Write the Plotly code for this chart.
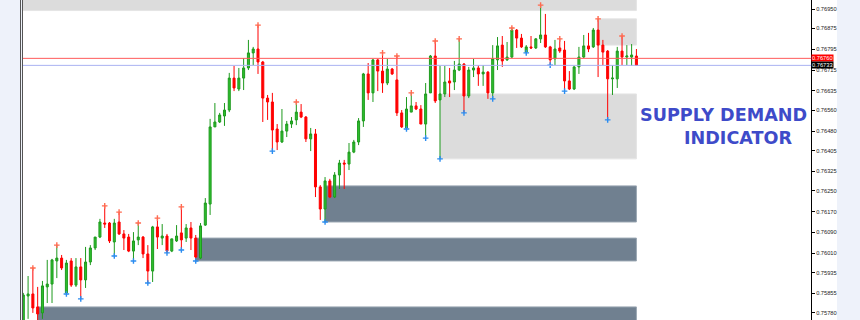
import plotly.graph_objects as go

# ---------------- data ----------------
opens = [0.75733, 0.75845, 0.75853, 0.75803, 0.75780, 0.75880, 0.75891, 0.75980, 0.75991, 0.75857,
         0.75980, 0.75887, 0.75957, 0.75907, 0.75976, 0.76030, 0.76072, 0.76126, 0.76126, 0.76053,
         0.76130, 0.76084, 0.76072, 0.76018, 0.76061, 0.76072, 0.76007, 0.75941, 0.76111, 0.76068,
         0.76076, 0.76018, 0.76057, 0.76088, 0.76068, 0.76107, 0.76068, 0.75991, 0.76118, 0.76199,
         0.76496, 0.76515, 0.76538, 0.76561, 0.76684, 0.76642, 0.76684, 0.76723, 0.76781, 0.76796,
         0.76746, 0.76607, 0.76592, 0.76488, 0.76438, 0.76480, 0.76507, 0.76523, 0.76553, 0.76534,
         0.76450, 0.76469, 0.76265, 0.76180, 0.76288, 0.76226, 0.76311, 0.76357, 0.76353, 0.76399,
         0.76438, 0.76519, 0.76700, 0.76627, 0.76754, 0.76711, 0.76665, 0.76719, 0.76677, 0.76550,
         0.76492, 0.76553, 0.76577, 0.76565, 0.76507, 0.76627, 0.76769, 0.76600, 0.76623, 0.76673,
         0.76669, 0.76715, 0.76738, 0.76615, 0.76715, 0.76723, 0.76700, 0.76707, 0.76627, 0.76754,
         0.76811, 0.76754, 0.76765, 0.76869, 0.76838, 0.76784, 0.76804, 0.76800, 0.76835, 0.76850,
         0.76804, 0.76758, 0.76800, 0.76792, 0.76673, 0.76642, 0.76727, 0.76765, 0.76808, 0.76804,
         0.76869, 0.76811, 0.76788, 0.76681, 0.76681, 0.76788, 0.76765, 0.76765, 0.76769]
highs = [0.75857, 0.75922, 0.75953, 0.75880, 0.75903, 0.75984, 0.75988, 0.76041, 0.76003, 0.75984,
         0.75991, 0.75991, 0.75991, 0.76034, 0.76041, 0.76072, 0.76142, 0.76192, 0.76130, 0.76142,
         0.76168, 0.76099, 0.76084, 0.76091, 0.76126, 0.76076, 0.76041, 0.76115, 0.76145, 0.76122,
         0.76084, 0.76065, 0.76118, 0.76188, 0.76122, 0.76130, 0.76080, 0.76126, 0.76222, 0.76527,
         0.76588, 0.76550, 0.76588, 0.76704, 0.76731, 0.76723, 0.76761, 0.76831, 0.76804, 0.76888,
         0.76750, 0.76619, 0.76627, 0.76507, 0.76565, 0.76519, 0.76534, 0.76592, 0.76584, 0.76538,
         0.76492, 0.76488, 0.76272, 0.76303, 0.76296, 0.76322, 0.76369, 0.76369, 0.76434, 0.76446,
         0.76530, 0.76704, 0.76742, 0.76758, 0.76758, 0.76781, 0.76758, 0.76723, 0.76769, 0.76561,
         0.76611, 0.76627, 0.76592, 0.76580, 0.76665, 0.76773, 0.76827, 0.76731, 0.76731, 0.76723,
         0.76750, 0.76835, 0.76742, 0.76727, 0.76758, 0.76734, 0.76734, 0.76711, 0.76811, 0.76842,
         0.76846, 0.76823, 0.76877, 0.76873, 0.76854, 0.76811, 0.76846, 0.76838, 0.76965, 0.76931,
         0.76808, 0.76831, 0.76835, 0.76827, 0.76711, 0.76731, 0.76804, 0.76850, 0.76858, 0.76877,
         0.76912, 0.76831, 0.76792, 0.76734, 0.76804, 0.76846, 0.76811, 0.76815, 0.76796]
lows = [0.75714, 0.75757, 0.75780, 0.75745, 0.75757, 0.75818, 0.75818, 0.75914, 0.75945, 0.75853,
        0.75880, 0.75880, 0.75834, 0.75876, 0.75964, 0.76022, 0.76068, 0.76107, 0.76049, 0.75999,
        0.76080, 0.76022, 0.76014, 0.75980, 0.76041, 0.75991, 0.75895, 0.75899, 0.76026, 0.76041,
        0.76011, 0.76014, 0.76053, 0.76022, 0.76053, 0.76022, 0.75980, 0.75987, 0.76115, 0.76157,
        0.76496, 0.76511, 0.76500, 0.76553, 0.76634, 0.76634, 0.76638, 0.76715, 0.76734, 0.76700,
        0.76515, 0.76523, 0.76403, 0.76407, 0.76434, 0.76457, 0.76492, 0.76503, 0.76530, 0.76438,
        0.76403, 0.76226, 0.76138, 0.76130, 0.76222, 0.76222, 0.76257, 0.76257, 0.76330, 0.76395,
        0.76426, 0.76496, 0.76600, 0.76592, 0.76634, 0.76627, 0.76657, 0.76696, 0.76538, 0.76492,
        0.76488, 0.76553, 0.76561, 0.76507, 0.76453, 0.76627, 0.76588, 0.76373, 0.76611, 0.76611,
        0.76638, 0.76711, 0.76550, 0.76607, 0.76688, 0.76654, 0.76654, 0.76604, 0.76604, 0.76715,
        0.76727, 0.76750, 0.76761, 0.76800, 0.76800, 0.76781, 0.76796, 0.76796, 0.76819, 0.76800,
        0.76734, 0.76734, 0.76781, 0.76634, 0.76638, 0.76638, 0.76700, 0.76761, 0.76784, 0.76800,
        0.76688, 0.76734, 0.76523, 0.76619, 0.76646, 0.76734, 0.76734, 0.76731, 0.76731]
closes = [0.75849, 0.75853, 0.75799, 0.75776, 0.75884, 0.75891, 0.75984, 0.75991, 0.75953, 0.75972,
          0.75887, 0.75957, 0.75907, 0.75976, 0.76030, 0.76072, 0.76130, 0.76122, 0.76057, 0.76126,
          0.76084, 0.76068, 0.76018, 0.76057, 0.76072, 0.76007, 0.75941, 0.76111, 0.76072, 0.76076,
          0.76018, 0.76065, 0.76076, 0.76061, 0.76107, 0.76068, 0.75995, 0.76115, 0.76203, 0.76496,
          0.76515, 0.76542, 0.76561, 0.76684, 0.76646, 0.76684, 0.76723, 0.76781, 0.76796, 0.76746,
          0.76607, 0.76592, 0.76484, 0.76438, 0.76480, 0.76507, 0.76519, 0.76553, 0.76534, 0.76450,
          0.76469, 0.76265, 0.76180, 0.76288, 0.76226, 0.76311, 0.76357, 0.76353, 0.76399, 0.76438,
          0.76519, 0.76700, 0.76627, 0.76754, 0.76711, 0.76665, 0.76719, 0.76700, 0.76550, 0.76496,
          0.76565, 0.76577, 0.76565, 0.76507, 0.76623, 0.76769, 0.76596, 0.76623, 0.76669, 0.76665,
          0.76715, 0.76738, 0.76615, 0.76715, 0.76723, 0.76700, 0.76707, 0.76627, 0.76758, 0.76808,
          0.76750, 0.76765, 0.76869, 0.76838, 0.76804, 0.76804, 0.76800, 0.76835, 0.76850, 0.76804,
          0.76754, 0.76796, 0.76788, 0.76673, 0.76642, 0.76727, 0.76765, 0.76808, 0.76796, 0.76869,
          0.76811, 0.76784, 0.76681, 0.76684, 0.76788, 0.76765, 0.76769, 0.76773, 0.76733]

# fractal markers (bar indices)
up_fractals = [2, 7, 17, 20, 24, 28, 33, 49, 57, 75, 78, 81, 86, 91, 102, 108, 112, 120, 125]
down_fractals = [9, 12, 19, 23, 26, 30, 33, 36, 52, 63, 80, 84, 87, 92, 98, 105, 110, 113, 122]

# supply / demand zones: start bar, upper price, lower price, kind
zone_start = [-1, 120, 87, 63, 36, 3]
zone_top = [0.77050, 0.76912, 0.76623, 0.76269, 0.76068, 0.75803]
zone_bottom = [0.76944, 0.76811, 0.76373, 0.76130, 0.75980, 0.75650]
zone_kind = ["supply", "supply", "weak", "demand", "demand", "demand"]

ask_price = 0.76760
bid_price = 0.76733

tick_values = [0.76950, 0.76875, 0.76795, 0.76715, 0.76635, 0.76560, 0.76480, 0.76405,
               0.76325, 0.76250, 0.76170, 0.76090, 0.76010, 0.75935, 0.75855, 0.75780]
tick_labels = ["0.76950", "0.76875", "0.76795", "0.76715", "0.76635", "0.76560", "0.76480", "0.76405",
               "0.76325", "0.76250", "0.76170", "0.76090", "0.76010", "0.75935", "0.75855", "0.75780"]

title_line1 = "SUPPLY DEMAND"
title_line2 = "INDICATOR"

# ---------------- figure ----------------
W, H = 860, 320
ML, MR = 22, 49
plot_w = W - ML - MR
last_bar = len(closes) - 1
bars = list(range(len(closes)))

zone_fill = {"supply": "#DCDCDC", "weak": "#DCDCDC", "demand": "#708090"}
zone_edge = {"supply": "#E4E4E4", "weak": "#E4E4E4", "demand": "#9AA6B2"}

fig = go.Figure()

shapes = []
# white strip behind price scale
shapes.append(dict(type="rect", xref="paper", yref="paper", x0=1.0, x1=(837 - ML) / plot_w,
                   y0=0, y1=1, fillcolor="white", line=dict(width=0), layer="below"))
for s, t, b, k in zip(zone_start, zone_top, zone_bottom, zone_kind):
    shapes.append(dict(type="rect", xref="x", yref="y", x0=s, x1=last_bar, y0=b, y1=t,
                       fillcolor=zone_fill[k], line=dict(color=zone_edge[k], width=1), layer="below"))
# ask / bid lines
shapes.append(dict(type="line", xref="paper", yref="y", x0=0, x1=1, y0=ask_price, y1=ask_price,
                   line=dict(color="#FF5A5A", width=1)))
shapes.append(dict(type="line", xref="paper", yref="y", x0=0, x1=1, y0=bid_price, y1=bid_price,
                   line=dict(color="#AAB2F2", width=1)))
# left window frame double line
for px in (20.5, 22.5):
    shapes.append(dict(type="line", xref="paper", yref="paper", x0=(px - ML) / plot_w, x1=(px - ML) / plot_w,
                       y0=0, y1=1, line=dict(color="#555555", width=1)))

fig.add_trace(go.Candlestick(
    x=bars, open=opens, high=highs, low=lows, close=closes,
    increasing=dict(line=dict(color="#1E9A1E", width=1), fillcolor="#2EC02E"),
    decreasing=dict(line=dict(color="#FF0000", width=1), fillcolor="#FF0000"),
    whiskerwidth=0, showlegend=False, hoverinfo="skip"))

fig.add_trace(go.Scatter(
    x=up_fractals, y=[highs[i] for i in up_fractals], mode="markers",
    marker=dict(symbol="cross-thin", size=4, color="#FF6A50", line=dict(width=1.4, color="#FF6A50")),
    showlegend=False, hoverinfo="skip"))
fig.add_trace(go.Scatter(
    x=down_fractals, y=[lows[i] for i in down_fractals], mode="markers",
    marker=dict(symbol="cross-thin", size=4, color="#2A8CF0", line=dict(width=1.4, color="#2A8CF0")),
    showlegend=False, hoverinfo="skip"))

y_top = 0.7698465
y_bot = y_top - 0.0000385 * H

annotations = [
    dict(xref="paper", yref="y", x=1.0, y=ask_price, xanchor="left", yanchor="middle",
         text="0.76760", showarrow=False, bgcolor="#FF0000", borderpad=0,
         font=dict(family="Liberation Sans", size=5.7, color="white")),
    dict(xref="paper", yref="y", x=1.0, y=bid_price, xanchor="left", yanchor="middle",
         text="0.76733", showarrow=False, bgcolor="#000000", borderpad=0,
         font=dict(family="Liberation Sans", size=5.7, color="white")),
    dict(xref="paper", yref="paper", x=(638 - ML) / plot_w, y=1 - 115 / H, xanchor="left", yanchor="middle",
         text=title_line1, showarrow=False,
         font=dict(family="DejaVu Sans", size=17.6, color="#3E4BC9", weight="bold")),
    dict(xref="paper", yref="paper", x=(738 - ML) / plot_w, y=1 - 138 / H, xanchor="center", yanchor="middle",
         text=title_line2, showarrow=False,
         font=dict(family="DejaVu Sans", size=17.6, color="#3E4BC9", weight="bold")),
]

fig.update_layout(
    width=W, height=H,
    margin=dict(l=ML, r=MR, t=0, b=0, pad=0),
    paper_bgcolor="#EEF2FA", plot_bgcolor="white",
    boxgap=0.4,
    shapes=shapes, annotations=annotations,
    xaxis=dict(visible=False, range=[-0.27, 164.45], rangeslider=dict(visible=False), fixedrange=True),
    yaxis=dict(side="right", range=[y_bot, y_top], tickvals=tick_values, ticktext=tick_labels,
               ticks="outside", ticklen=3, tickwidth=1, tickcolor="#000000",
               showline=True, linecolor="#000000", linewidth=1, showgrid=False, zeroline=False,
               tickfont=dict(family="Liberation Sans", size=5.7, color="#222222"), fixedrange=True),
)

fig.write_html("out.html")
